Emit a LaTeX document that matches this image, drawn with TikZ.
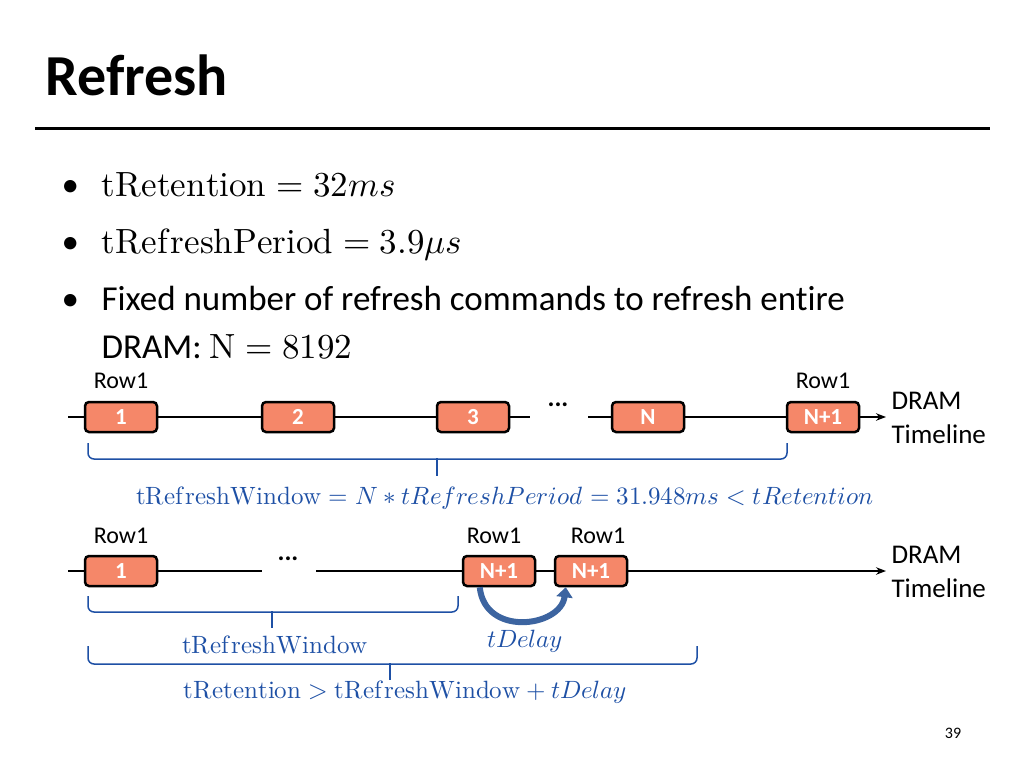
\documentclass[tikz,border=0pt]{standalone}
\usepackage{unicode-math}
\setmainfont{Carlito}[Ligatures=NoCommon]
\setmathfont{Latin Modern Math}
\usetikzlibrary{arrows.meta}
\definecolor{boxf}{RGB}{245,135,105}
\definecolor{bl}{RGB}{30,80,165}
\definecolor{arr}{RGB}{60,100,160}
\begin{document}
\begin{tikzpicture}[x=1pt,y=-1pt,
 rb/.style={draw=black,line width=2.5pt,fill=boxf,rounded corners=4pt,minimum width=72pt,minimum height=30pt,inner sep=0pt,text=white,font=\fontsize{23}{23}\selectfont\bfseries},
 lab/.style={font=\fontsize{24}{24}\selectfont},
 tl/.style={line width=1.5pt},
 br/.style={draw=bl,line width=1.5pt,rounded corners=6pt},
 bt/.style={text=bl,font=\fontsize{25}{25}\selectfont},
 bul/.style={anchor=base west,font=\fontsize{35}{35}\selectfont}]
\useasboundingbox (0,0) rectangle (1024,768);
\node[anchor=base west,font=\fontsize{58}{58}\selectfont\bfseries] (title) at (42,95) {Refresh};
\draw[line width=3pt] (35,128) -- (990,128);
\foreach \y/\t [count=\i] in {185/{$\symup{tRetention}=32ms$},242/{$\symup{tRefreshPeriod}=3.9\mu s$},299/{Fixed number of refresh commands to refresh entire}}{
 \node[bul] (b\i) at (58,\y+11) {\textbullet};
 \node[bul] (t\i) at (98,\y+11) {\t};}
\node[bul] (t4) at (98,358) {DRAM: $\symup{N}=8192$};
% top timeline
\node[rb] (a1) at (121,417) {1};
\node[rb] (a2) at (298,417) {2};
\node[rb] (a3) at (473,417) {3};
\node[rb] (aN) at (648,417) {N};
\node[rb] (aN1) at (823,417) {N+1};
\coordinate (s1) at (68,417); \coordinate (g1) at (530,417);
\coordinate (g2) at (588,417); \coordinate (e1) at (886,417);
\node[font=\fontsize{26}{26}\selectfont\bfseries] (d1) at (558,405) {...};
\draw[tl] (s1) -- (a1) -- (a2) -- (a3) -- (g1);
\draw[tl] (g2) -- (aN) -- (aN1);
\draw[tl,-{Stealth[length=10pt]}] (aN1) -- (e1);
\node[lab,anchor=base] (r1) at (121,388) {Row1};
\node[lab,anchor=base] (r2) at (823,388) {Row1};
\node[font=\fontsize{27}{27}\selectfont,anchor=base west] (dt1) at (888,409) {DRAM};
\node[font=\fontsize{27}{27}\selectfont,anchor=base west] (dt1b) at (888,443) {Timeline};
\coordinate (br1a) at (88,443); \coordinate (br1b) at (787,443); \coordinate (br1t) at (437,476);
\draw[br] (br1a) |- (437,459) -| (br1b);
\draw[draw=bl,line width=1.5pt] (437,458) -- (br1t);
\node[bt] (f1) at (505,498) {$\symup{tRefreshWindow} = N*tRefreshPeriod = 31.948ms < tRetention$};
% bottom timeline
\node[rb] (c1) at (121,571) {1};
\node[rb] (c2) at (499,571) {N+1};
\node[rb] (c3) at (591,571) {N+1};
\coordinate (s2) at (68,571); \coordinate (h1) at (262,571);
\coordinate (h2) at (316,571); \coordinate (e2) at (886,571);
\node[font=\fontsize{26}{26}\selectfont\bfseries] (d2) at (288,559) {...};
\draw[tl] (s2) -- (c1) -- (h1);
\draw[tl] (h2) -- (c2) -- (c3);
\draw[tl,-{Stealth[length=10pt]}] (c3) -- (e2);
\node[lab,anchor=base] (q1) at (121,543) {Row1};
\node[lab,anchor=base] (q2) at (494,543) {Row1};
\node[lab,anchor=base] (q3) at (598,543) {Row1};
\node[font=\fontsize{27}{27}\selectfont,anchor=base west] (dt2) at (888,563) {DRAM};
\node[font=\fontsize{27}{27}\selectfont,anchor=base west] (dt2b) at (888,597) {Timeline};
\draw[arr,line width=6pt,-{Triangle[length=10pt,width=16pt]}] (c2.south west) ++(18,0) coordinate (ca) .. controls +(5,50) and +(-5,40) .. ([xshift=12pt]c3.south west);
\draw[br] (88,596) |- (272,612) -| (458,596);
\draw[draw=bl,line width=1.5pt] (272,611) -- (272,628);
\node[bt] (f2) at (275,645) {$\symup{tRefreshWindow}$};
\node[bt] (f3) at (525,641) {$tDelay$};
\draw[br] (88,646) |- (390,664) -| (697,646);
\draw[draw=bl,line width=1.5pt] (390,663) -- (390,680);
\node[bt] (f4) at (405,692) {$\symup{tRetention} > \symup{tRefreshWindow} + tDelay$};
\node[font=\fontsize{16}{16}\selectfont] (pg) at (953,733) {39};
\end{tikzpicture}
\end{document}
